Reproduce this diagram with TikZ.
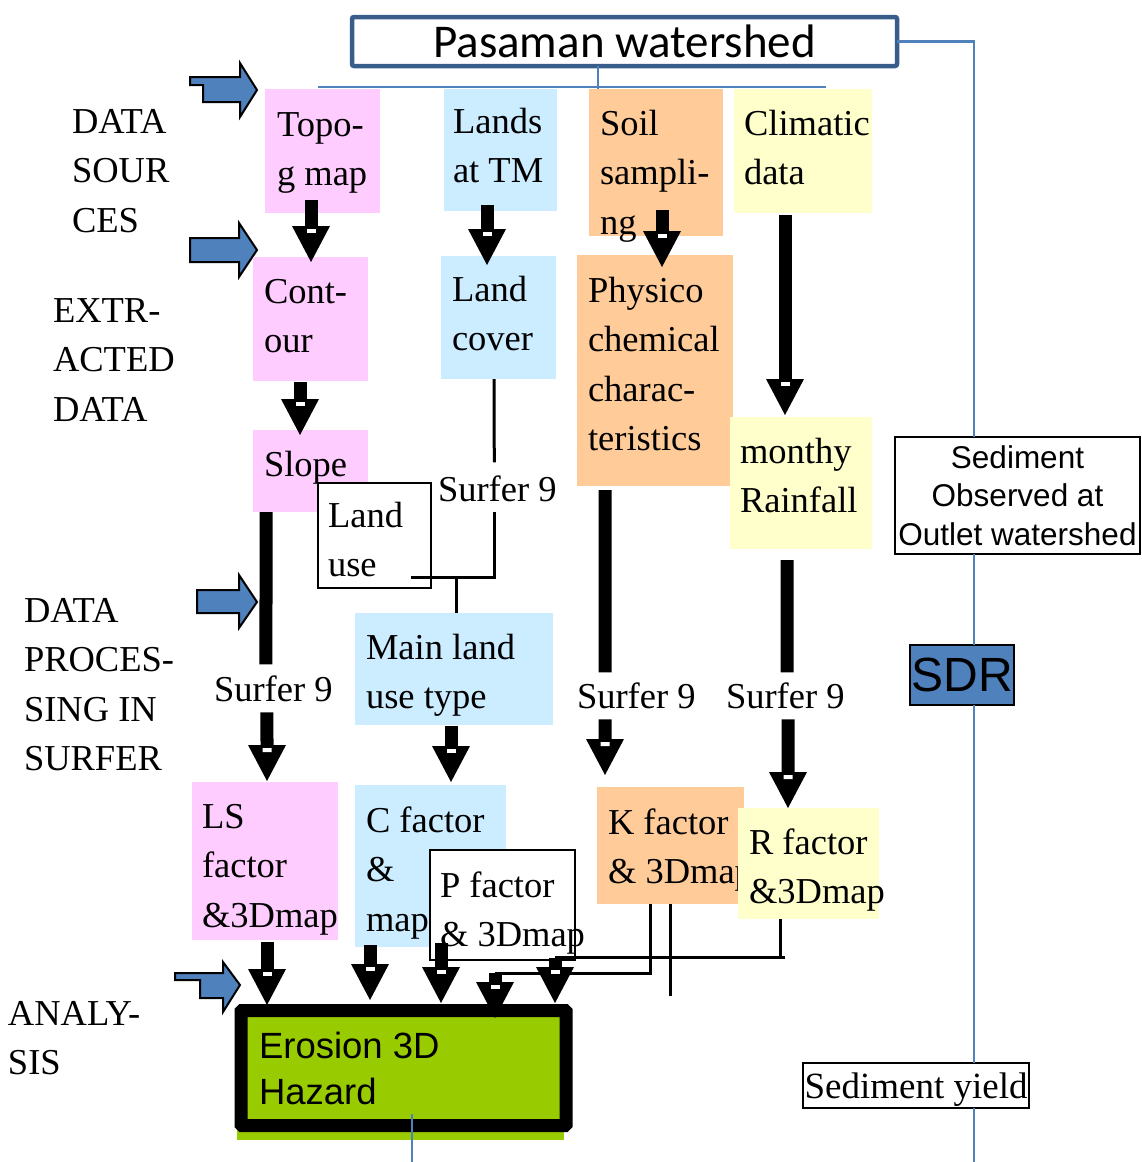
\documentclass[tikz,border=0pt]{standalone}
\usepackage{fontspec}
\setmainfont{Liberation Serif}
\newfontfamily\arialf{Liberation Sans}
\newfontfamily\calibf{Carlito}
\usetikzlibrary{arrows.meta,decorations.markings,calc}
\definecolor{pinkc}{HTML}{FFCCFF}
\definecolor{bluec}{HTML}{CCECFF}
\definecolor{orangec}{HTML}{FFCC99}
\definecolor{yellowc}{HTML}{FFFFCC}
\definecolor{greenc}{HTML}{99CC00}
\definecolor{blueA}{HTML}{4F81BD}
\definecolor{pasb}{HTML}{385D8A}
\newcommand{\ml}[1]{\begin{tabular}[t]{@{}l@{}}#1\end{tabular}}
\newcommand{\serifsz}{\fontsize{36.5}{49.5}\selectfont}
\begin{document}
\begin{tikzpicture}[x=1pt,y=-1pt,
  box/.style={inner sep=0pt, outer sep=0pt, anchor=north west, draw=none},
  wbox/.style={box, fill=white, draw=black, line width=2.5pt},
  cbox/.style={inner sep=0pt, outer sep=0pt, fill=white, draw=black, line width=2.5pt},
  txt/.style={inner sep=0pt, outer sep=0pt, anchor=base west, font=\serifsz},
  barrow/.style={line width=13pt, -{Triangle[width=38pt,length=36pt,line width=0pt]},
    postaction={decorate},
    decoration={markings, mark=at position -31pt with {\fill[white] (-2pt,-4.5pt) rectangle (2pt,4.5pt);}}},
  shaft/.style={line width=13pt},
  thinl/.style={line width=3pt, draw=black},
  bline/.style={line width=2.5pt, draw=blueA},
  barr/.style={fill=blueA, draw=black, line width=2pt, line join=miter},
]
\useasboundingbox (0,0) rectangle (1142,1162);

% ---------- title box and blue lines ----------
\node[draw=pasb, line width=4.5pt, fill=white, rounded corners=2pt, minimum width=545pt,
      minimum height=49pt, inner sep=0pt, outer sep=0pt,
      font=\calibf\fontsize{47}{56}\selectfont] (pas) at (624.5,41.5) {Pasaman watershed};
\draw[bline] ($(pas.south)+(-26.5,0)$) -- ++(0,23);
\draw[bline] (318,87) -- (826,87);

% ---------- block arrows (stage markers) ----------
\draw[barr] (190,77) -- (240,77) -- (240,63) -- (257,90) -- (240,117) -- (240,102) -- (203,102) -- (203,85) -- (190,85) -- cycle;
\draw[barr] (190,238) -- (239,238) -- (239,223) -- (257,250) -- (239,277) -- (239,262) -- (190,262) -- cycle;
\draw[barr] (197,590) -- (239,590) -- (239,575) -- (257,602) -- (239,628) -- (239,613) -- (197,613) -- cycle;
\draw[barr] (175,973) -- (223,973) -- (223,962) -- (240,985) -- (223,1012) -- (223,998) -- (200,998) -- (200,980) -- (175,980) -- cycle;

% ---------- stage labels ----------
\node[txt] (l1) at (72,133) {\ml{DATA\\SOUR\\CES}};
\node[txt] (l2) at (53,322) {\ml{EXTR-\\ACTED\\DATA}};
\node[txt] (l3) at (24,622) {\ml{DATA\\PROCES-\\SING IN\\SURFER}};
\node[txt] (l4) at (8,1025) {\ml{ANALY-\\SIS}};

% ---------- coloured boxes ----------
\node[box, fill=pinkc, minimum width=115pt, minimum height=124pt] (topo) at (265,89) {};
\node[txt] at (277,136) {\ml{Topo-\\g map}};
\node[box, fill=bluec, minimum width=113pt, minimum height=122pt] (lands) at (444,89) {};
\node[txt] at (453,133) {\ml{Lands\\at TM}};
\node[box, fill=orangec, minimum width=134pt, minimum height=147pt] (soil) at (589,89) {};
\node[txt] at (600,135) {\ml{Soil\\sampli-\\ng}};
\node[box, fill=yellowc, minimum width=138pt, minimum height=124pt] (clim) at (734,89) {};
\node[txt] at (744,135) {\ml{Climatic\\data}};

\node[box, fill=pinkc, minimum width=115pt, minimum height=124pt] (cont) at (253,257) {};
\node[txt] at (264,303) {\ml{Cont-\\our}};
\node[box, fill=bluec, minimum width=115pt, minimum height=123pt] (lcov) at (441,256) {};
\node[txt] at (452,301) {\ml{Land\\cover}};
\node[box, fill=orangec, minimum width=156pt, minimum height=231pt] (phys) at (577,255) {};
\node[txt] at (588,302) {\ml{Physico\\chemical\\charac-\\teristics}};
\node[box, fill=yellowc, minimum width=142pt, minimum height=132pt] (rain) at (730,417) {};
\node[txt] at (740,463) {\ml{monthy\\Rainfall}};

\node[box, fill=pinkc, minimum width=115pt, minimum height=82pt] (slope) at (253,430) {};
\node[txt] at (264,476) {Slope};
\node[wbox, minimum width=113pt, minimum height=105pt] (lu) at (318,483) {};
\node[txt] at (328,527) {\ml{Land\\use}};

\node[box, fill=bluec, minimum width=198pt, minimum height=112pt] (main) at (355,613) {};
\node[txt] at (366,659) {\ml{Main land\\use type}};

\node[box, fill=pinkc, minimum width=146pt, minimum height=158pt] (ls) at (192,782) {};
\node[txt] at (202,828) {\ml{LS\\factor\\\&3Dmap}};
\node[box, fill=bluec, minimum width=151pt, minimum height=162pt] (cf) at (355,785) {};
\node[txt] at (366,832) {\ml{C factor\\\&\\map}};
\node[wbox, minimum width=145pt, minimum height=110pt] (pb) at (430,850) {};
\node[txt] at (440,897) {\ml{P factor\\\& 3Dmap}};
\node[box, fill=orangec, minimum width=147pt, minimum height=117pt] (kf) at (597,787) {};
\node[txt] at (608,834) {\ml{K factor\\\& 3Dmap}};
\node[box, fill=yellowc, minimum width=141pt, minimum height=111pt] (rf) at (738,808) {};
\node[txt] at (749,854) {\ml{R factor\\\&3Dmap}};

% ---------- Surfer labels ----------
\node[txt] (s1) at (214,701) {Surfer 9};
\node[txt] (s2) at (438,501) {Surfer 9};
\node[txt] (s3) at (577,708) {Surfer 9};
\node[txt] (s4) at (726,708) {Surfer 9};

% ---------- right column ----------
\node[cbox, minimum width=245pt, minimum height=117pt, align=center,
      font=\arialf\fontsize{31.5}{38.5}\selectfont] (sobs) at (1017.5,495.5)
      {Sediment\\Observed at\\Outlet watershed};
\node[draw=black, line width=2pt, fill=blueA, minimum width=104pt, minimum height=60pt,
      inner sep=0pt, outer sep=0pt, font=\arialf\fontsize{48}{56}\selectfont] (sdr) at (962,675) {SDR};
\node[cbox, minimum width=226pt, minimum height=45pt, text depth=0pt, font=\fontsize{37}{44}\selectfont]
      (syield) at (916,1085.5) {Sediment yield};
\draw[bline] (pas.east) -| ($(sobs.north)+(-43.5,0)$);
\draw[bline] ($(sobs.south)+(-43.5,0)$) -- ($(sdr.north)+(12,0)$);
\draw[bline] ($(sdr.south)+(12,0)$) -- ($(syield.north)+(58,0)$);
\draw[bline] ($(syield.south)+(58,0)$) -- ++(0,60);

% ---------- erosion box ----------
\fill[greenc] (237,1126) rectangle (564,1140);
\node[draw=black, line width=13pt, fill=greenc, minimum width=325pt, minimum height=115pt,
      inner sep=0pt, outer sep=0pt, rounded corners=1pt] (ero) at (403.5,1068) {};
\node[inner sep=0pt, outer sep=0pt, anchor=base west, font=\arialf\fontsize{36.5}{46}\selectfont]
      (erot) at (259,1058) {\ml{Erosion 3D\\Hazard}};
\draw[bline] ($(ero.south)+(8.5,-11.5)$) -- ++(0,48);

% ---------- thin connectors ----------
\draw[thinl] ($(lcov.south)+(-4.5,0)$) -- ($(s2.north)+(-3,-13)$);
\coordinate (luend) at ($(lu.south east)+(-20,-11)$);
\draw[thinl] ($(s2.south)+(-3,11)$) |- (luend);
\coordinate (junc) at (456,577);
\draw[thinl] (junc) -- (junc |- main.north);

\coordinate (kj) at (495,973);
\coordinate (rj) at (555,957);
\draw[thinl] ($(kf.south)+(-20.5,0)$) |- (kj);
\draw[thinl] ($(kf.south)+(-0.5,0)$) -- ++(0,92);
\draw[thinl] ($(rf.south)+(-28.5,0)$) -- ++(0,38);
\draw[thinl] ($(rf.south)+(-23.5,38)$) -- (rj);

% ---------- black block arrows ----------
\draw[barrow] ($(topo.south)+(-11.5,-13)$) -- ($(cont.north)+(0.5,5)$);
\draw[barrow] ($(lands.south)+(-13.5,-6)$) -- ($(lcov.north)+(-11.5,9)$);
\draw[barrow] ($(soil.south)+(6,-26)$) -- ($(phys.north)+(7,12)$);
\draw[barrow] ($(clim.south)+(-18,2)$) -- ($(rain.north)+(-16,-2)$);
\draw[barrow] ($(cont.south)+(-10.5,1)$) -- ($(slope.north)+(-10.5,5)$);
\draw[shaft]  ($(slope.south)+(-44.5,0)$) -- ($(s1.north)+(-7.3,-11)$);
\draw[barrow] ($(s1.south)+(-6.3,11)$) -- ($(ls.north)+(2,-1)$);
\draw[barrow] ($(main.south)+(-3,1)$) -- ($(cf.north)+(20.5,-3)$);
\draw[shaft]  ($(phys.south)+(-50,4)$) -- ($(s3.north)+(-31.3,-10)$);
\draw[barrow] ($(s3.south)+(-31.3,11)$) -- ($(kf.north)+(-65.5,-12)$);
\draw[shaft]  ($(rain.south)+(-14,11)$) -- ($(s4.north)+(1.7,-10)$);
\draw[barrow] ($(s4.south)+(2.7,11)$) -- ($(rf.north)+(-20.5,0)$);

\draw[barrow] ($(ls.south)+(2,2)$) -- ($(ero.north)+(-136.5,-5.5)$);
\draw[barrow] ($(cf.south)+(-60.5,-2)$) -- ($(ero.north)+(-33.5,-10.5)$);
\draw[barrow] ($(pb.south)+(-61.5,-17)$) -- ($(ero.north)+(37.5,-7.5)$);
\draw[barrow] (kj) -- ($(ero.north)+(91.5,7.5)$);
\draw[barrow] ($(rj)+(0,1)$) -- ($(ero.north)+(151.5,-7.5)$);
\end{tikzpicture}
\end{document}
